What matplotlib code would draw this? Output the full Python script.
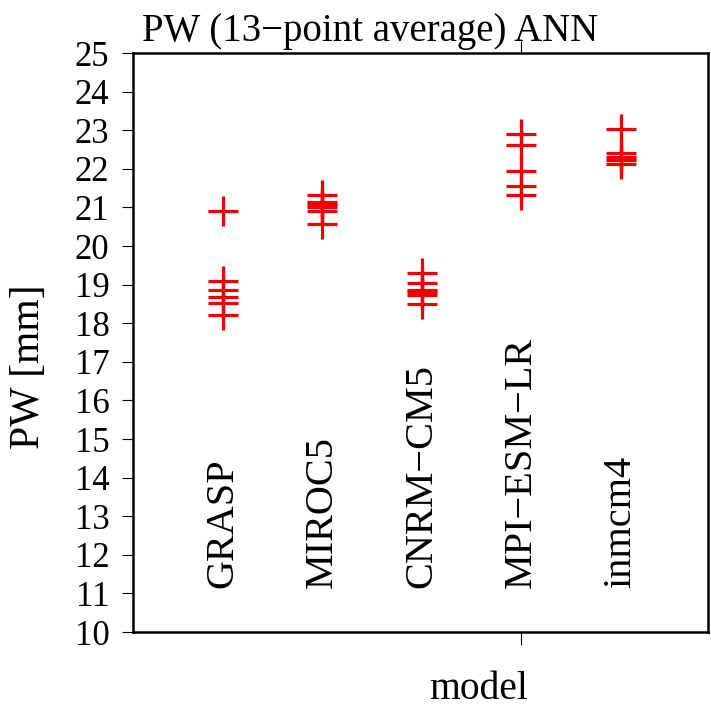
import numpy as np
import matplotlib
matplotlib.use("Agg")
import matplotlib.pyplot as plt

# model names and the PW values (mm)
models = ["GRASP", "MIROC5", "CNRM\u2212CM5", "MPI\u2212ESM\u2212LR", "inmcm4"]
grasp = [20.91, 19.10, 18.86, 18.68, 18.53, 18.22]
miroc5 = [21.31, 21.15, 21.08, 21.00, 20.92, 20.56]
cnrm = [19.31, 19.05, 18.86, 18.80, 18.74, 18.51]
mpi = [22.91, 22.61, 21.94, 21.55, 21.31]
inmcm4 = [23.04, 22.40, 22.30, 22.22, 22.12]
values = [grasp, miroc5, cnrm, mpi, inmcm4]

yticks = list(range(10, 26))

plt.rcParams['font.family'] = ['Liberation Serif', 'DejaVu Serif']

fig = plt.figure(figsize=(7.11, 7.08), dpi=100)
ax = fig.add_axes([0.1871, 0.1073, 0.8087, 0.8178])

for i, vals in enumerate(values):
    x = np.full(len(vals), i + 1)
    ax.plot(x, vals, linestyle='none', marker='+', color='#ee0000',
            markersize=21, markeredgewidth=2.3)
    ax.text(i + 1, 11.15, models[i], rotation=90, ha='center', va='bottom',
            fontsize=29)

ax.set_xlim(0.098, 5.877)
ax.set_ylim(10, 25)
ax.set_yticks(yticks)
ax.set_yticklabels([str(t) for t in yticks], fontsize=25)
ax.set_xticks([4])
ax.set_xticklabels([""])
ax.tick_params(axis='y', direction='out', length=8, width=0.8, pad=9)
ax.tick_params(axis='x', direction='out', length=9, width=0.8,
               top=True, bottom=True)
for s in ax.spines.values():
    s.set_linewidth(1.8)

# axis titles placed where the reference has them
fig.text(29 / 711, 1 - 367 / 708, "PW [mm]", rotation=90, fontsize=30,
         ha='center', va='center')
fig.text(478 / 711, 1 - 699 / 708, "model", fontsize=28.5,
         ha='center', va='baseline')
fig.text(142 / 711, 1 - 41 / 708, "PW (13\u2212point average) ANN",
         fontsize=28, ha='left', va='baseline')

fig.savefig("out.png", dpi=100)
